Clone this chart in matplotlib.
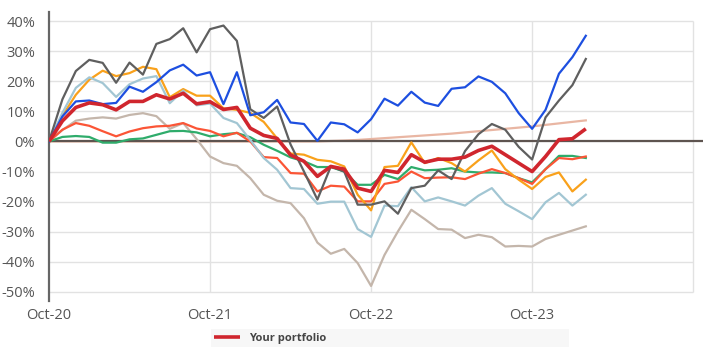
import matplotlib
matplotlib.use("Agg")
import matplotlib.pyplot as plt
import numpy as np

months = list(range(41))  # Oct-20 .. Feb-24 monthly
tick_pos = [0, 12, 24, 36]
tick_labels = ["Oct-20", "Oct-21", "Oct-22", "Oct-23"]
y_ticks = [40, 30, 20, 10, 0, -10, -20, -30, -40, -50]

blue = [0, 8.3, 13.3, 13.6, 12.4, 12.8, 18.2, 16.5, 19.7, 23.6, 25.5, 21.9, 23.0, 12.4, 23.0, 8.7,
        9.7, 13.8, 6.3, 5.8, 0.2, 6.3, 5.7, 3.0, 7.4, 14.2, 11.9, 16.5, 12.9, 11.8, 17.5, 18.0,
        21.6, 19.8, 16.0, 9.4, 4.2, 10.5, 22.5, 28.0, 35.1]
gray = [0, 14.0, 23.4, 27.1, 26.1, 19.5, 26.2, 22.2, 32.4, 34.0, 37.6, 29.6, 37.3, 38.5, 33.4, 10.7,
        7.8, 11.6, -1.0, -10.0, -19.3, -8.3, -10.0, -21.0, -21.0, -19.9, -24.0, -15.5, -14.7, -9.6,
        -12.5, -3.2, 2.4, 5.8, 3.9, -1.8, -6.0, 8.0, 13.6, 18.7, 27.4]
lightblue = [0, 9.5, 17.8, 21.3, 19.4, 14.8, 19.0, 20.9, 21.7, 12.7, 16.9, 12.0, 12.6, 7.8, 6.1, 0.5,
             -5.5, -9.4, -15.5, -15.8, -20.7, -20.0, -20.0, -29.1, -31.7, -21.3, -21.5, -15.2, -19.9,
             -18.6, -19.9, -21.3, -18.0, -15.5, -20.7, -23.2, -25.8, -20.2, -17.1, -21.3, -17.7]
orange = [0, 8.5, 15.5, 20.5, 23.5, 21.7, 22.7, 24.8, 24.0, 14.7, 17.4, 15.2, 15.2, 11.0, 10.5, 9.5,
          6.5, 1.0, -4.0, -4.4, -6.1, -6.6, -8.3, -17.7, -22.9, -8.5, -8.1, -0.3, -7.2, -5.5, -7.2,
          -10.0, -6.3, -3.0, -9.2, -12.7, -15.8, -11.8, -10.3, -16.6, -12.7]
portfolio = [0, 6.8, 11.3, 12.8, 12.2, 10.5, 13.3, 13.3, 15.5, 14.1, 16.0, 12.5, 13.2, 10.6, 11.3, 4.4,
             2.0, 1.0, -4.5, -6.6, -11.6, -8.3, -9.2, -15.5, -16.6, -9.6, -10.3, -4.4, -6.9, -5.9,
             -5.9, -5.2, -3.0, -1.6, -4.4, -7.2, -10.0, -5.0, 0.6, 0.9, 4.2]
tomato = [0, 3.9, 6.1, 5.2, 3.4, 1.7, 3.3, 4.4, 5.0, 5.2, 6.1, 4.3, 3.5, 1.7, 2.9, 0.0, -5.2, -5.5,
          -10.5, -10.7, -16.6, -14.7, -15.0, -19.9, -19.9, -14.1, -13.3, -10.0, -12.2, -12.0, -11.9,
          -12.5, -10.7, -9.2, -10.5, -12.2, -14.1, -9.2, -5.5, -5.9, -5.0]
green = [0, 1.5, 1.8, 1.5, -0.4, -0.4, 0.7, 1.0, 2.2, 3.4, 3.5, 3.0, 1.7, 2.4, 2.8, 1.4, -1.1, -3.1,
         -5.3, -6.6, -8.5, -8.5, -10.0, -14.4, -14.4, -11.1, -12.5, -8.5, -9.6, -9.4, -8.9, -10.0,
         -10.3, -10.3, -10.5, -12.2, -13.6, -9.2, -4.8, -4.8, -5.5]
tan = [0, 3.8, 6.9, 7.6, 8.0, 7.6, 8.8, 9.4, 8.4, 4.2, 6.1, 0.8, -5.0, -7.2, -8.1, -12.2, -17.7,
       -19.7, -20.5, -25.5, -33.6, -37.3, -35.7, -40.4, -48.0, -37.7, -29.9, -22.7, -25.8, -29.1,
       -29.3, -32.1, -31.0, -31.8, -34.9, -34.7, -34.9, -32.4, -31.0, -29.6, -28.2]
salmon = [0, 0, 0, 0, 0, 0, 0, 0, 0, 0, 0, 0, 0, 0, 0, 0, 0, 0, 0, 0, 0.0, 0.15, 0.3, 0.5, 0.8, 1.1,
          1.4, 1.7, 2.0, 2.3, 2.6, 3.0, 3.4, 3.8, 4.2, 4.6, 5.0, 5.5, 6.0, 6.5, 7.0]

plt.rcParams['font.family'] = ['Open Sans', 'DejaVu Sans']

fig = plt.figure(figsize=(7.03, 3.54), dpi=100)
ax = fig.add_axes([49/703, 53/354, 654/703, 289/354])
ax.set_xlim(0, 654/13.42)
ax.set_ylim(-53, 43)

grid_c = "#e2e2e2"
ax.hlines(y_ticks, 0, 48, colors=grid_c, linewidth=1.0, zorder=0)
ax.vlines([12, 24, 36, 48], -50, 40, colors=grid_c, linewidth=1.0, zorder=0)

ax.plot(months, salmon, color="#e9b6a3", lw=1.6, zorder=1)
ax.axhline(0, color="#5e5450", lw=1.6, zorder=1.5)
series = [(tan, "#c4b6ab"), (green, "#2fac6b"), (tomato, "#fb5536"), (orange, "#f9a11b"),
          (lightblue, "#a2c6d3"), (gray, "#5f5f5f"), (blue, "#1d4fe0")]
for i, (vals, c) in enumerate(series):
    ax.plot(months, vals, color=c, lw=1.6, zorder=2 + i * 0.1)
ax.plot(months, portfolio, color="#d0262e", lw=2.6, zorder=3, label="Your portfolio",
        solid_capstyle="butt")

for s in ["top", "right", "bottom"]:
    ax.spines[s].set_visible(False)
ax.spines["left"].set_color("#666666")
ax.spines["left"].set_linewidth(1.6)

ax.set_xticks(tick_pos)
ax.set_xticklabels(tick_labels)
ax.set_yticks(y_ticks)
ax.set_yticklabels([f"{v}%" for v in y_ticks])
ax.tick_params(length=0, colors="#555555", labelsize=10.5)
ax.tick_params(axis="x", pad=5)
ax.tick_params(axis="y", pad=10)

leg = fig.legend(loc="lower left", bbox_to_anchor=(205/703, 1/354, 370/703, 21/354),
                 mode="expand", frameon=True, fancybox=False, handlelength=2.3,
                 borderpad=0.35, handletextpad=0.8,
                 prop={"weight": "bold", "size": 8})
leg.get_frame().set_facecolor("#f6f6f6")
leg.get_frame().set_edgecolor("none")
for t in leg.get_texts():
    t.set_color("#444444")

fig.savefig("out.png", dpi=100)
